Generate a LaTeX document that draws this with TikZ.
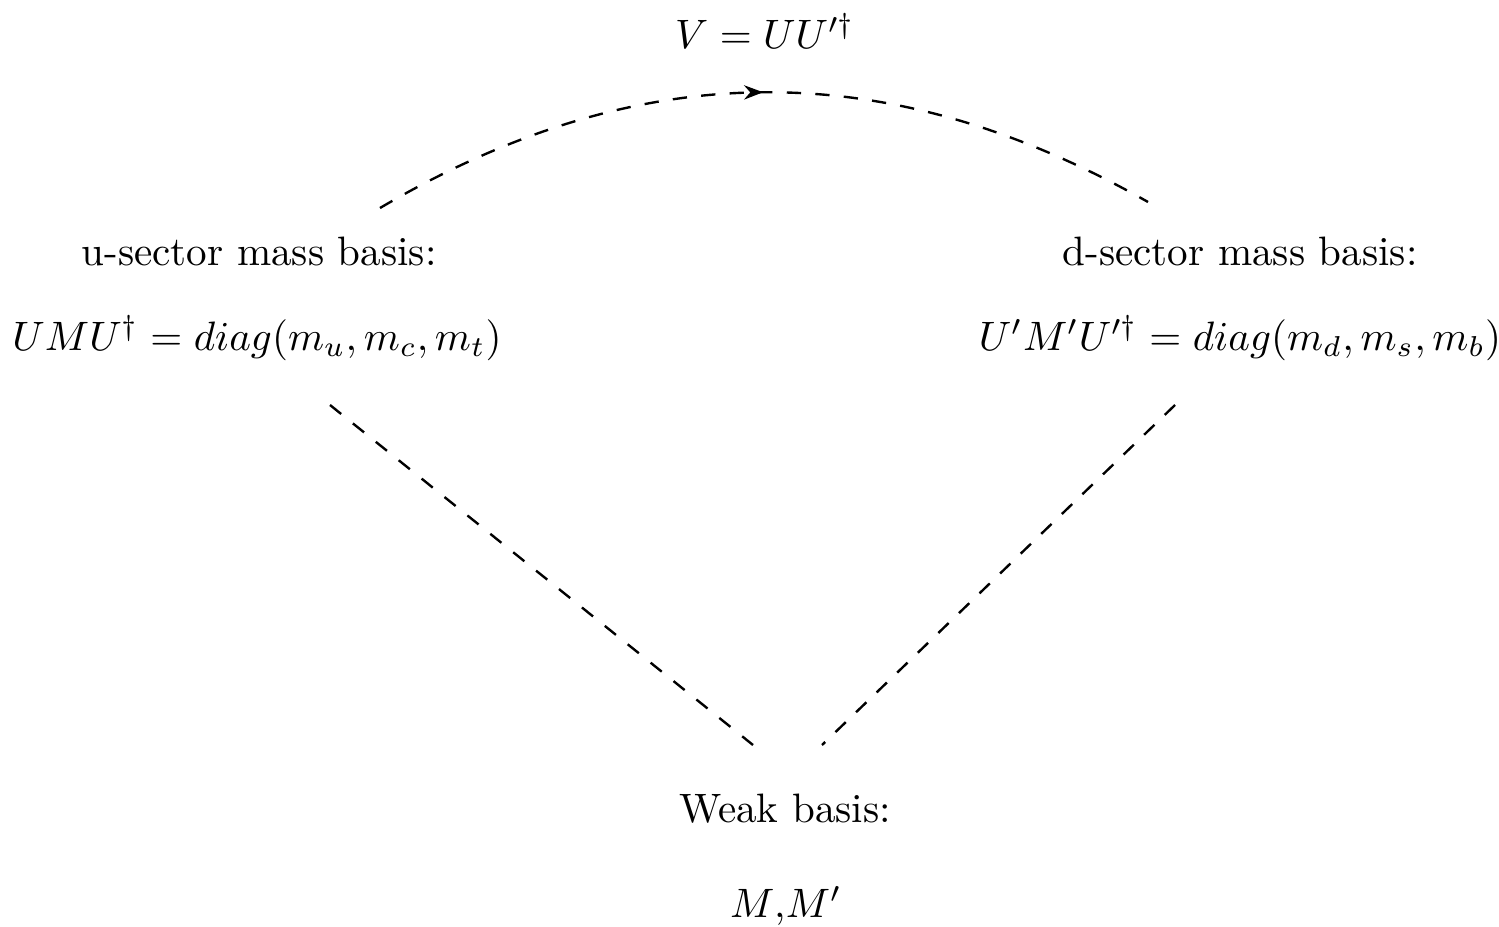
\documentclass[tikz,border=0pt]{standalone}
\usepackage{amsmath}
\usetikzlibrary{arrows.meta,decorations.markings}

\begin{document}
\begin{tikzpicture}[
    x=0.21pt,y=0.21pt,
    font=\normalsize,
    lbl/.style={anchor=base,inner sep=0pt,scale=0.863},
    basisline/.style={dashed,line width=0.5pt},
    midarrow/.style={postaction={decorate},decoration={markings,
        mark=at position 0.5 with {\arrow{Stealth[length=4pt,width=3pt]}}}}
]
    \useasboundingbox (0,0) rectangle (1499,-926);

    % Basis labels.
    \node[lbl] (vckm)  at (765,-48)  {$V=UU'^{\dagger}$};
    \node[lbl] (utxt)  at (259,-265) {u-sector mass basis:};
    \node[lbl] (umat)  at (257,-350) {$UMU^{\dagger}=diag(m_u,m_c,m_t)$};
    \node[lbl] (dtxt)  at (1240,-265) {d-sector mass basis:};
    \node[lbl] (dmat)  at (1240,-350) {$U'M'U'^{\dagger}=diag(m_d,m_s,m_b)$};
    \node[lbl] (wtxt)  at (785,-822) {Weak basis:};
    \node[lbl] (wmat)  at (786,-917) {$M$,$M'$};

    % End points of the connectors.
    \coordinate (ua) at (380,-208);
    \coordinate (da) at (1148,-202);
    \coordinate (ub) at (330,-405);
    \coordinate (db) at (1175,-405);
    \coordinate (wl) at (753,-745);
    \coordinate (wr) at (822,-745);

    \draw[basisline,midarrow] (ua) to[bend left=30] (da);
    \draw[basisline,dash pattern=on 3pt off 3.17pt] (ub) -- (wl);
    \draw[basisline] (db) -- (wr);
\end{tikzpicture}
\end{document}
